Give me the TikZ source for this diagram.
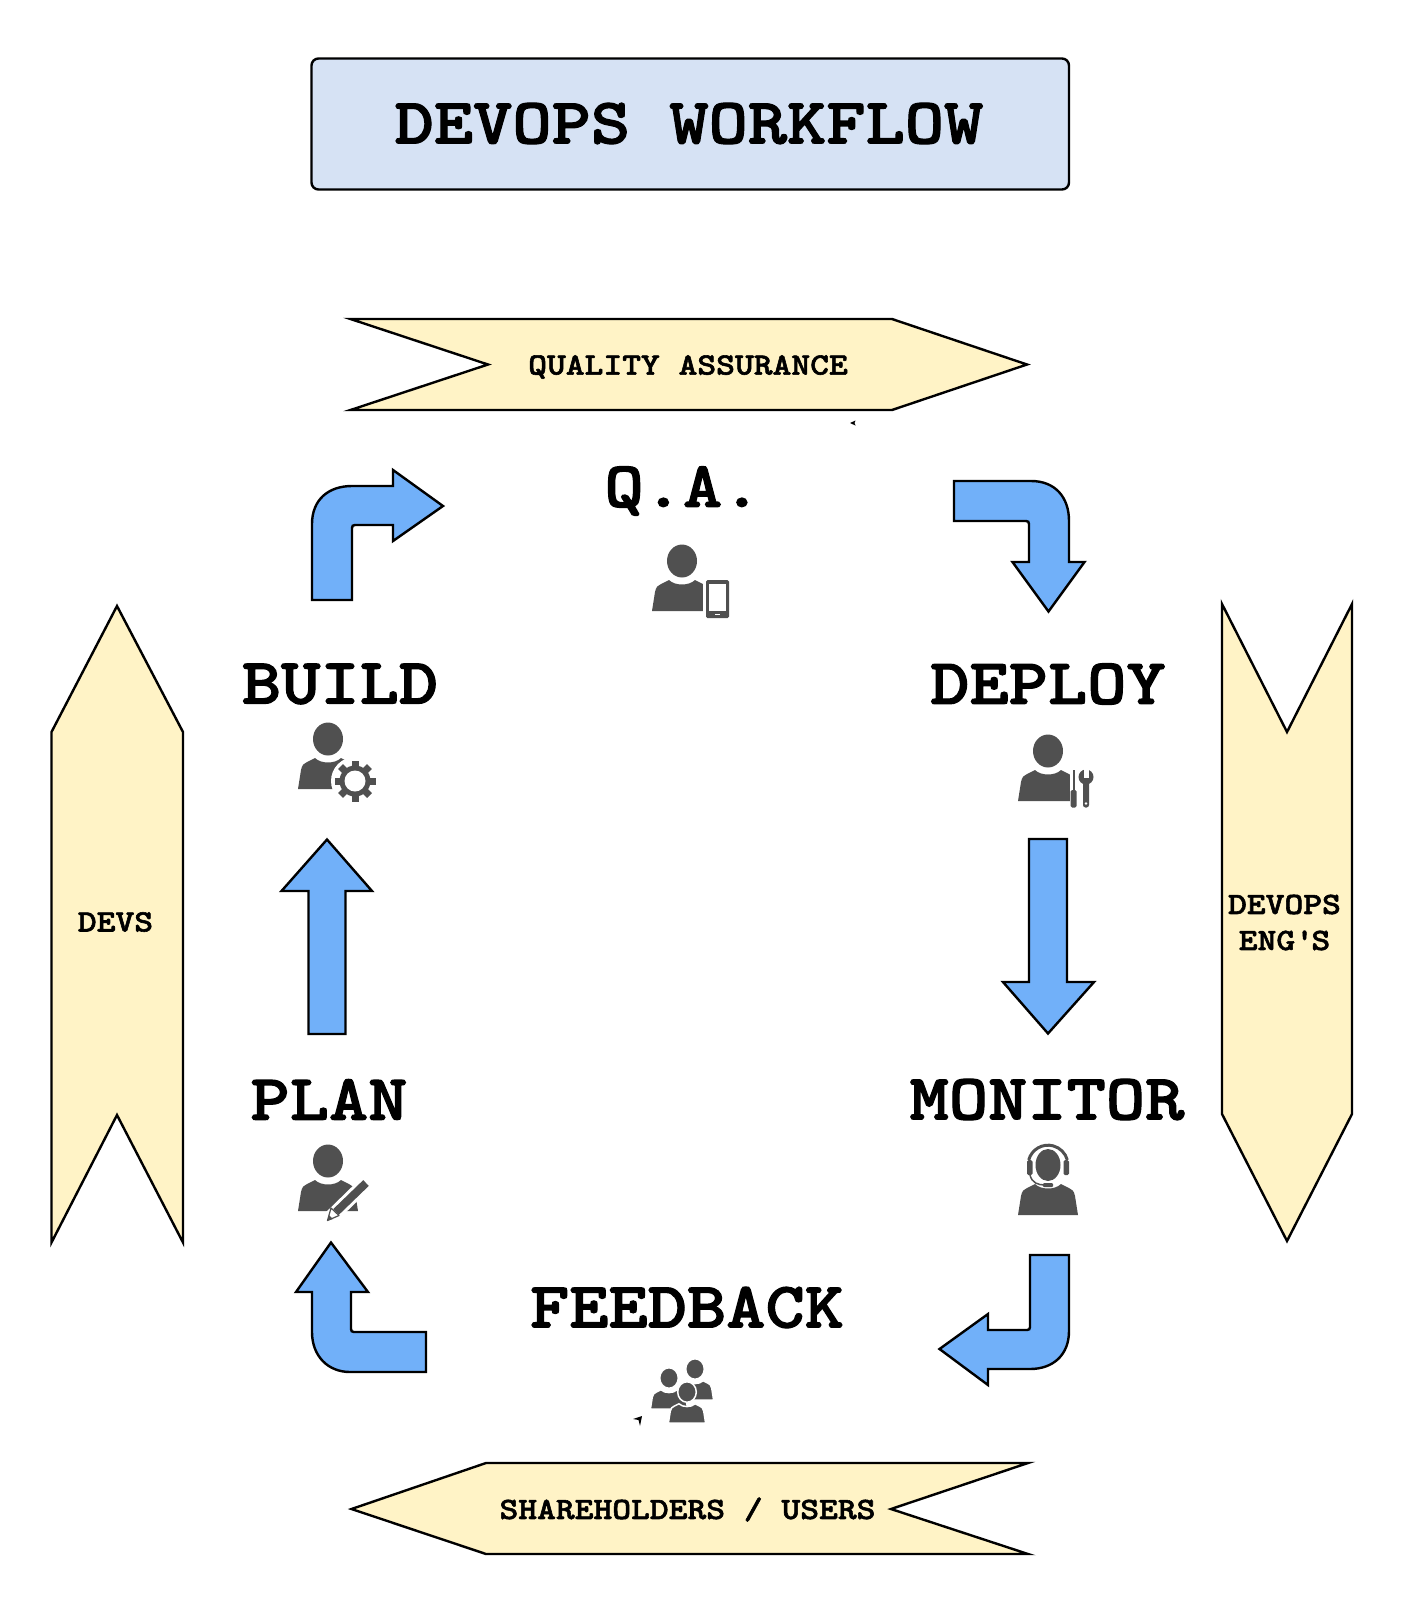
\documentclass[tikz,border=0pt]{standalone}
\usepackage{fontspec}
\usepackage{tikz}
\newfontfamily\stepfont{lmmonolt10-bold}[Extension=.otf, FakeStretch=1.15, FakeBold=1.8]
\newfontfamily\tagfont{lmmonolt10-bold}[Extension=.otf, FakeStretch=1.155, FakeBold=1.8]
\definecolor{titlefill}{HTML}{D6E2F4}
\definecolor{tagfill}{HTML}{FFF3C6}
\definecolor{bluefill}{HTML}{71B0F9}
\definecolor{iconcol}{HTML}{505050}
\tikzset{
  titlebox/.style={draw=black, line width=2.4pt, fill=titlefill, rounded corners=7pt},
  tagshape/.style={draw=black, line width=2.4pt, fill=tagfill, line join=miter},
  bigarrow/.style={draw=black, line width=2.4pt, fill=bluefill, line join=miter},
  steplabel/.style={font=\stepfont\fontsize{65}{65}\selectfont, inner sep=0pt},
  taglabel/.style={font=\tagfont\fontsize{31}{36}\selectfont, inner sep=0pt, align=center},
  iconfill/.style={fill=iconcol},
  person/.pic={
    \path[iconfill] (0,0) ellipse (15 and 16.5);
    \path[iconfill] (-30,50) -- (-27,31) .. controls (-26,26) and (-24,24) .. (-21,23) -- (-13,19)
      .. controls (-7,25) and (7,25) .. (13,19) -- (21,23) .. controls (24,24) and (26,26) .. (27,31) -- (30,50) -- cycle;
  },
  gear/.pic={
    \fill[white] (0,0) circle (24);
    \foreach \a in {0,45,...,315}
      \path[iconfill, rotate=\a] (-3.5,-20.5) rectangle (3.5,-12);
    \path[iconfill] (0,0) circle (15.5);
    \fill[white] (0,0) circle (10.5);
  }
}

\begin{document}
\begin{tikzpicture}[x=1pt, y=-1pt]
\useasboundingbox (0,0) rectangle (1411,1612);

\draw[titlebox] (311.5,58.5) rectangle (1069,189.5);
\node[steplabel] (title) at (689,123.5) {DEVOPS WORKFLOW};

% the four tags round the cycle
\draw[tagshape] (350.5,319) -- (892,319) -- (1027,364.5) -- (892,410) -- (350.5,410) -- (488,364.5) -- cycle;
\node[taglabel] (qaTag) at (688,367) {QUALITY ASSURANCE};

\draw[tagshape] (351.5,1509) -- (486,1463) -- (1028,1463) -- (891,1509) -- (1028,1554) -- (486,1554) -- cycle;
\node[taglabel] (usersTag) at (687.5,1509.5) {SHAREHOLDERS / USERS};

\draw[tagshape] (117,606) -- (183,732) -- (183,1242.5) -- (117,1115) -- (51.5,1242.5) -- (51.5,732) -- cycle;
\node[taglabel] (devsTag) at (115.5,922) {DEVS};

\draw[tagshape] (1222,604) -- (1287,732) -- (1352,604) -- (1352,1114) -- (1287,1241) -- (1222,1114) -- cycle;
\node[taglabel] (opsTag) at (1284.5,922.5) {DEVOPS\\ENG\textquotesingle S};

% step names
\node[steplabel] (qa) at (683,491) {Q.A.};
\node[steplabel] (build) at (340,684) {BUILD};
\node[steplabel] (deploy) at (1048,684) {DEPLOY};
\node[steplabel] (plan) at (329,1099.5) {PLAN};
\node[steplabel] (monitor) at (1047,1099.5) {MONITOR};
\node[steplabel] (feedback) at (687,1307.5) {FEEDBACK};

% block arrows
\draw[bigarrow] (312,600) -- (312,524) .. controls (312,500) and (328,486) .. (352,486) -- (393,486) -- (393,470) -- (443,506)
  -- (393,541) -- (393,525) -- (355,525) .. controls (353,525) and (352,526) .. (352,528) -- (352,600) -- cycle;
\draw[bigarrow] (954,481) -- (1031,481) .. controls (1055,481) and (1069,497) .. (1069,521) -- (1069,562) -- (1084.5,562) -- (1048.5,611.5)
  -- (1012.5,562) -- (1029,562) -- (1029,524) .. controls (1029,522) and (1028,521) .. (1026,521) -- (954,521) -- cycle;
\draw[bigarrow] (1029,839) -- (1067,839) -- (1067,982) -- (1094,982) -- (1048,1033.5) -- (1003,982) -- (1029,982) -- cycle;
\draw[bigarrow] (308.5,1034) -- (345.5,1034) -- (345.5,891) -- (372,891) -- (327,839.5) -- (281.5,891) -- (308.5,891) -- cycle;
\draw[bigarrow] (1030,1255) -- (1069,1255) -- (1069,1331) .. controls (1069,1355) and (1053,1369) .. (1030,1369) -- (988,1369) -- (988,1385)
  -- (939.5,1349) -- (988,1314) -- (988,1330) -- (1027,1330) .. controls (1029,1330) and (1030,1329) .. (1030,1327) -- cycle;
\draw[bigarrow] (426,1372) -- (350,1372) .. controls (328,1372) and (312,1356) .. (312,1332) -- (312,1292) -- (296,1292) -- (331,1242.5)
  -- (368,1292) -- (351,1292) -- (351,1329) .. controls (351,1331) and (352,1332) .. (354,1332) -- (426,1332) -- cycle;

% Q.A. icon
\pic at (682,561) {person};
\fill[white] (703,570) rectangle (720,615);
\fill[iconcol, rounded corners=1.5pt] (706,580) rectangle (729,618);
\fill[white] (709,584) rectangle (726,611);
\fill[white] (715,613.5) rectangle (720,615);

% BUILD icon
\pic at (328,739) {person};
\pic at (355,781) {gear};

% DEPLOY icon
\pic at (1048,751) {person};
\fill[white] (1070,765) rectangle (1080,805);
\fill[iconcol] (1072.5,770) rectangle (1075,792);
\fill[iconcol, rounded corners=1.5pt] (1070.5,790) rectangle (1076.5,807.5);
\fill[iconcol] (1086,777) circle (7.5);
\fill[white] (1083.5,769) rectangle (1088.5,778);
\fill[iconcol, rounded corners=2.5pt] (1083,780) rectangle (1089,807.5);
\fill[white] (1086,803.5) circle (1.3);

% PLAN icon
\pic at (328,1161) {person};
\draw[white, line width=14pt] (329,1219) -- (372,1177);
\draw[iconcol, line width=8pt] (336,1212) -- (366,1183);
\filldraw[draw=iconcol, fill=white, line width=1.2pt, line join=round] (327.5,1220.5) -- (331,1208) -- (339,1215.5) -- cycle;
\fill[iconcol] (327.5,1220.5) -- (329,1215) -- (333,1219) -- cycle;

% MONITOR icon
\pic at (1048,1165) {person};
\fill[white] (1048,1165) ellipse (18 and 18);
\path[iconfill] (1048,1165) ellipse (12.5 and 16);
\draw[iconcol, line width=3pt] (1028.7,1160) arc[start angle=-165, end angle=-15, radius=20];
\fill[iconcol, rounded corners=1.5pt] (1027,1160) rectangle (1032.5,1175);
\fill[iconcol, rounded corners=1.5pt] (1063.5,1160) rectangle (1069,1175);
\draw[iconcol, line width=1.5pt] (1030,1175) .. controls (1032,1183) and (1038,1185) .. (1045,1185);
\fill[iconcol, rounded corners=1pt] (1043,1183) rectangle (1053,1187);

% FEEDBACK icon
\begin{scope}[iconfill/.append style={draw=white, line width=1.5pt}]
\pic[scale=.62] at (695,1369) {person};
\pic[scale=.62] at (669,1378) {person};
\pic[scale=.62] at (687,1392) {person};
\end{scope}

% small stray tips
\fill[black] (850,423) -- (855.5,420.5) -- (854.5,423) -- (855.5,425.5) -- cycle;
\fill[black] (633,1419) -- (642,1416) -- (640,1426) -- (638.5,1420) -- cycle;
\end{tikzpicture}
\end{document}
